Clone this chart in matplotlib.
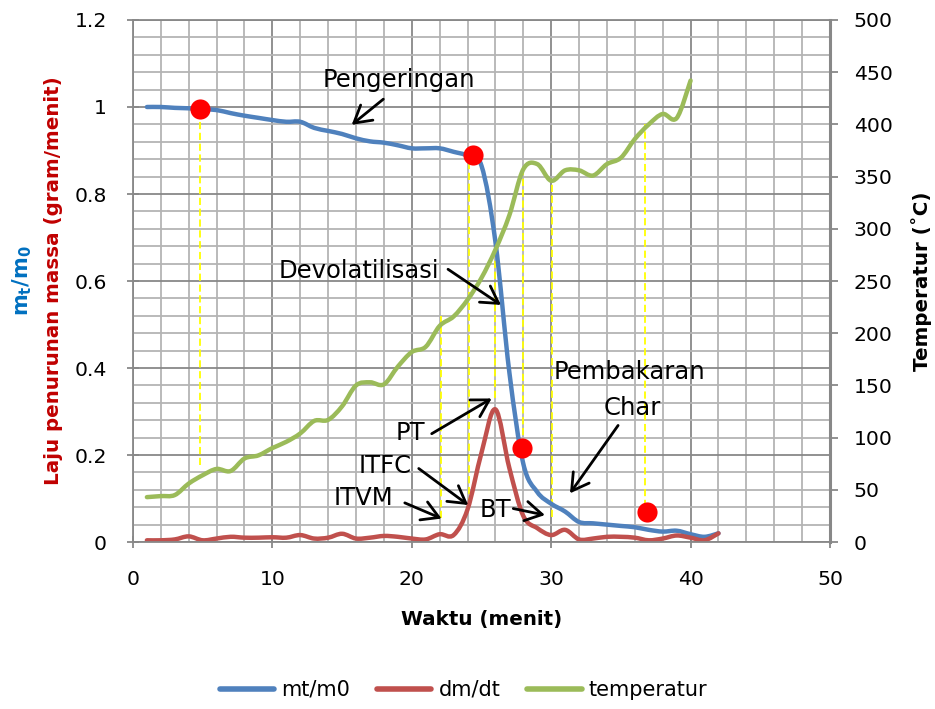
import matplotlib
matplotlib.use("Agg")
import matplotlib.pyplot as plt
from matplotlib.ticker import MultipleLocator, FuncFormatter
from matplotlib.path import Path
from matplotlib.patches import PathPatch
from matplotlib.lines import Line2D

plt.rcParams['font.family'] = ['DejaVu Sans']
plt.rcParams['mathtext.default'] = 'regular'

# data (time in minutes)
time_min = list(range(1, 43))
mass_ratio = [1.0, 1.0, 0.998, 0.997, 0.995, 0.993, 0.986, 0.980, 0.975, 0.970,
              0.966, 0.966, 0.952, 0.945, 0.938, 0.928, 0.921, 0.918, 0.912, 0.905,
              0.905, 0.905, 0.897, 0.888, 0.865, 0.690, 0.390, 0.180, 0.115, 0.088,
              0.070, 0.046, 0.043, 0.040, 0.037, 0.034, 0.028, 0.024, 0.026, 0.018,
              0.012, 0.020]
mass_rate = [0.004, 0.004, 0.006, 0.013, 0.004, 0.008, 0.012, 0.010, 0.010, 0.011,
             0.010, 0.016, 0.008, 0.010, 0.019, 0.008, 0.010, 0.014, 0.012, 0.008,
             0.006, 0.018, 0.016, 0.075, 0.205, 0.305, 0.170, 0.060, 0.032, 0.016,
             0.028, 0.006, 0.008, 0.012, 0.012, 0.010, 0.004, 0.008, 0.015, 0.010,
             0.004, 0.020]
temp_time = list(range(1, 41))
temperature = [43, 44, 45, 56, 64, 70, 68, 80, 83, 90,
               96, 104, 116, 117, 130, 150, 153, 151, 168, 182,
               187, 207, 216, 232, 253, 280, 313, 357, 362, 346,
               356, 356, 351, 362, 368, 386, 400, 410, 406, 442]

# stage points (red dots), left axis units
dot_x = [4.8, 24.4, 27.9, 36.9]
dot_y = [0.995, 0.89, 0.215, 0.07]

# yellow dashed guides
guide_x = [4.8, 22.1, 24.1, 26.0, 28.0, 30.05, 36.7]
guide_top = [0.98, 0.52, 0.88, 0.69, 0.857, 0.833, 0.96]
guide_bottom = [0.177, 0.055, 0.085, 0.33, 0.22, 0.058, 0.08]

# labels: text, text position (baseline), arrow tail, arrow head
notes = [
    ("Pengeringan", (19.1, 1.046), (17.96, 1.018), (15.69, 0.959)),
    ("Devolatilisasi", (16.2, 0.606), (22.6, 0.627), (26.4, 0.545)),
    ("PT", (19.9, 0.234), (21.43, 0.249), (25.73, 0.33)),
    ("ITFC", (18.1, 0.159), (20.5, 0.169), (24.05, 0.085)),
    ("ITVM", (16.5, 0.086), (19.5, 0.09), (22.14, 0.054)),
    ("BT", (25.97, 0.058), (27.28, 0.077), (29.55, 0.062)),
    ("Char", (35.8, 0.292), (34.8, 0.268), (31.35, 0.112)),
]
extra_text = [("Pembakaran", (35.6, 0.374))]


def smooth_path(xs, ys):
    # Excel-like smoothed line: catmull-rom segments as cubic beziers
    pts = list(zip(xs, ys))
    verts = [pts[0]]
    codes = [Path.MOVETO]
    n = len(pts)
    for i in range(n - 1):
        p0 = pts[i - 1] if i > 0 else pts[i]
        p1 = pts[i]
        p2 = pts[i + 1]
        p3 = pts[i + 2] if i + 2 < n else pts[i + 1]
        c1 = (p1[0] + (p2[0] - p0[0]) / 6, p1[1] + (p2[1] - p0[1]) / 6)
        c2 = (p2[0] - (p3[0] - p1[0]) / 6, p2[1] - (p3[1] - p1[1]) / 6)
        verts += [c1, c2, p2]
        codes += [Path.CURVE4] * 3
    return Path(verts, codes)


def draw_series(axis, xs, ys, color, z):
    patch = PathPatch(smooth_path(xs, ys), fill=False, edgecolor=color, lw=3.2,
                      capstyle='round', joinstyle='round', zorder=z)
    axis.add_patch(patch)
    return Line2D([], [], color=color, lw=4, solid_capstyle='round')


fig = plt.figure(figsize=(9.35, 7.09), dpi=100)
ax = fig.add_axes([0.1422, 0.2355, 0.7455, 0.7363])
ax2 = ax.twinx()

major_c = '#888888'
minor_c = '#b4b4b4'

ax.set_xlim(0, 50)
ax.set_ylim(0, 1.2)
ax.xaxis.set_major_locator(MultipleLocator(10))
ax.xaxis.set_minor_locator(MultipleLocator(2))
ax.yaxis.set_major_locator(MultipleLocator(0.2))
ax.yaxis.set_minor_locator(MultipleLocator(0.04))
ax.yaxis.set_major_formatter(FuncFormatter(lambda v, p: f"{v:g}"))
ax.grid(which='minor', color=minor_c, lw=1.3)
ax.grid(which='major', color=major_c, lw=1.3)
ax.set_axisbelow(True)
ax.tick_params(which='minor', length=0)
ax.tick_params(which='major', direction='inout', length=8, width=1.3,
               color=major_c, labelsize=14.7)
ax.tick_params(axis='y', pad=15)
ax.tick_params(axis='x', pad=16)
for s in ['left', 'bottom', 'top']:
    ax.spines[s].set_color(major_c)
    ax.spines[s].set_linewidth(1.3)
ax.spines['right'].set_visible(False)

ax.vlines(guide_x, guide_bottom, guide_top, colors='#ffff00',
          linestyles=(0, (4, 2)), lw=1.3, zorder=1.8)

h1 = draw_series(ax, time_min, mass_ratio, '#4f81bd', 2.2)
h2 = draw_series(ax, time_min, mass_rate, '#c0504d', 2.2)

ax2.set_ylim(0, 500)
ax2.yaxis.set_major_locator(MultipleLocator(50))
ax2.tick_params(axis='y', direction='out', length=6, width=1.3,
                color=major_c, labelsize=14.7, pad=11)
for s in ['left', 'bottom', 'top']:
    ax2.spines[s].set_visible(False)
ax2.spines['right'].set_color(major_c)
ax2.spines['right'].set_linewidth(2.2)

h3 = draw_series(ax2, temp_time, temperature, '#9bbb59', 2)

ax2.plot(dot_x, dot_y, 'o', color='#ff0000', ms=14.5, mec='none',
         transform=ax.transData, zorder=4)

for label, tpos, tail, head in notes:
    ax2.text(tpos[0], tpos[1], label, transform=ax.transData, ha='center',
             va='baseline', fontsize=17.5, zorder=5)
    ax2.annotate('', xy=head, xytext=tail, xycoords=ax.transData,
                 textcoords=ax.transData, zorder=5,
                 arrowprops=dict(arrowstyle='->,head_length=0.6,head_width=0.35',
                                 lw=2, color='black', mutation_scale=20,
                                 shrinkA=0, shrinkB=0))
for label, tpos in extra_text:
    ax2.text(tpos[0], tpos[1], label, transform=ax.transData, ha='center',
             va='baseline', fontsize=17.5, zorder=5)

ax.set_xlabel('Waktu (menit)', fontsize=14.3, fontweight='bold', labelpad=15)
fig.text(0.0567, 0.6037, 'Laju penurunan massa (gram/menit)', rotation=90,
         ha='center', va='center', fontsize=14.3, fontweight='bold', color='#c00000')
fig.text(0.0235, 0.6037, 'm$_t$/m$_0$', rotation=90, ha='center', va='center',
         fontsize=15, fontweight='bold', color='#0070c0')
fig.text(0.986, 0.6037, 'Temperatur (\u02daC)', rotation=90, ha='center',
         va='center', fontsize=14.3, fontweight='bold')

fig.legend([h1, h2, h3], ['mt/m0', 'dm/dt', 'temperatur'], loc='center',
           bbox_to_anchor=(0.4957, 0.0268), ncol=3, frameon=False,
           fontsize=15, handlelength=2.6, columnspacing=1.3,
           handletextpad=0.35)

fig.savefig('out.png', dpi=100)
